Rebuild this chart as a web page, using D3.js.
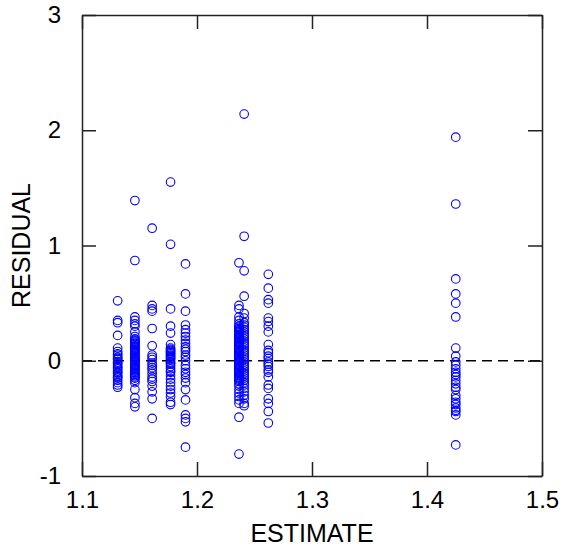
<!DOCTYPE html>
<html>
<head>
<meta charset="utf-8">
<script src="https://cdn.jsdelivr.net/npm/d3@7"></script>
<style>
  body { margin: 0; background: #fff; }
  text { font-family: "Liberation Sans", Arial, sans-serif; }
</style>
</head>
<body>
<svg width="563" height="550"></svg>
<script>
const xTicks = [1.1, 1.2, 1.3, 1.4, 1.5];
const yTicks = [-1, 0, 1, 2, 3];

// estimate levels, one column of residuals for each
const estimates = [1.131, 1.146, 1.161, 1.177, 1.190, 1.2365, 1.241, 1.262, 1.425];

const res1131 = [0.52, 0.35, 0.33, 0.22, 0.11, 0.08, 0.06, 0.05, 0.03, 0.02, 0.01, -0.01, -0.02,
  -0.03, -0.05, -0.06, -0.07, -0.09, -0.10, -0.11, -0.13, -0.14, -0.15, -0.17, -0.19, -0.21, -0.23];
const res1146 = [1.39, 0.87, 0.38, 0.35, 0.32, 0.30, 0.25, 0.21, 0.19, 0.18, 0.17, 0.16, 0.15,
  0.14, 0.13, 0.12, 0.11, 0.10, 0.09, 0.08, 0.07, 0.06, 0.05, 0.04, 0.03, 0.02, 0.01, 0.00,
  -0.01, -0.02, -0.03, -0.04, -0.05, -0.06, -0.07, -0.08, -0.09, -0.10, -0.11, -0.12, -0.13,
  -0.14, -0.15, -0.17, -0.19, -0.25, -0.32, -0.37, -0.40];
const res1161 = [1.15, 0.48, 0.45, 0.43, 0.28, 0.13, 0.05, 0.03, 0.01, -0.02, -0.04, -0.06,
  -0.08, -0.11, -0.14, -0.16, -0.18, -0.22, -0.27, -0.33, -0.50];
const res1177 = [1.55, 1.01, 0.45, 0.30, 0.24, 0.14, 0.11, 0.10, 0.09, 0.08, 0.07, 0.06, 0.05,
  0.04, 0.03, 0.02, 0.01, -0.01, -0.02, -0.03, -0.05, -0.07, -0.09, -0.10, -0.13, -0.16, -0.19,
  -0.22, -0.25, -0.28, -0.31, -0.36, -0.38];
const res1190 = [0.84, 0.58, 0.43, 0.31, 0.27, 0.24, 0.21, 0.18, 0.15, 0.12, 0.10, 0.08, 0.05,
  0.03, 0.00, -0.04, -0.07, -0.10, -0.12, -0.15, -0.19, -0.25, -0.34, -0.47, -0.50, -0.53, -0.75];
const res12365 = [0.85, 0.48, 0.45, 0.38, 0.35, 0.32, 0.30, 0.29, 0.28, 0.27, 0.26, 0.25, 0.24,
  0.23, 0.22, 0.21, 0.20, 0.19, 0.18, 0.17, 0.16, 0.15, 0.14, 0.13, 0.12, 0.11, 0.10, 0.09,
  0.08, 0.07, 0.06, 0.05, 0.04, 0.03, 0.02, 0.01, 0.00, -0.01, -0.02, -0.03, -0.04, -0.05,
  -0.06, -0.07, -0.08, -0.09, -0.10, -0.11, -0.12, -0.13, -0.14, -0.15, -0.16, -0.17, -0.18,
  -0.20, -0.22, -0.25, -0.28, -0.31, -0.34, -0.37, -0.49, -0.81];
const res1241 = [2.14, 1.08, 0.78, 0.56, 0.41, 0.37, 0.33, 0.31, 0.29, 0.27, 0.25, 0.23, 0.21,
  0.19, 0.17, 0.15, 0.13, 0.11, 0.09, 0.07, 0.05, 0.03, 0.01, -0.01, -0.03, -0.05, -0.07,
  -0.09, -0.11, -0.13, -0.15, -0.17, -0.19, -0.21, -0.24, -0.27, -0.30, -0.33, -0.37, -0.39];
const res1262 = [0.75, 0.63, 0.53, 0.50, 0.37, 0.34, 0.30, 0.25, 0.14, 0.09, 0.07, 0.04, 0.02,
  -0.01, -0.03, -0.05, -0.08, -0.10, -0.14, -0.21, -0.24, -0.33, -0.37, -0.44, -0.54];
const res1425 = [1.94, 1.36, 0.71, 0.58, 0.50, 0.38, 0.11, 0.04, -0.01, -0.04, -0.07, -0.10,
  -0.12, -0.14, -0.17, -0.20, -0.23, -0.25, -0.30, -0.33, -0.36, -0.38, -0.41, -0.43, -0.44,
  -0.47, -0.73];

const residuals = [res1131, res1146, res1161, res1177, res1190, res12365, res1241, res1262, res1425];

const points = estimates.flatMap((e, i) => residuals[i].map(r => [e, r]));

const margin = { top: 15, right: 21, bottom: 74, left: 82 };
const width = 563 - margin.left - margin.right;
const height = 550 - margin.top - margin.bottom;

const svg = d3.select("svg");
const g = svg.append("g")
  .attr("transform", "translate(" + margin.left + "," + margin.top + ")");

const x = d3.scaleLinear().domain([1.1, 1.5]).range([0, width]);
const y = d3.scaleLinear().domain([-1, 3]).range([height, 0]);

// zero reference line
g.append("line")
  .attr("x1", 0).attr("x2", width)
  .attr("y1", y(0)).attr("y2", y(0))
  .attr("stroke", "#000")
  .attr("stroke-width", 1.5)
  .attr("stroke-dasharray", "10,6");

g.append("g")
  .selectAll("circle")
  .data(points)
  .enter()
  .append("circle")
  .attr("cx", d => x(d[0]))
  .attr("cy", d => y(d[1]))
  .attr("r", 4.3)
  .attr("fill", "none")
  .attr("stroke", "#0000ff")
  .attr("stroke-width", 1.1);

// axes, ticks pointing inward on all four sides
const tick = 14;
const fmt = d3.format(".1f");
function styleAxis(sel) {
  sel.select(".domain").attr("stroke", "#222").attr("stroke-width", 1.5);
  sel.selectAll(".tick line").attr("stroke", "#222").attr("stroke-width", 1.5);
  sel.selectAll(".tick text").attr("fill", "#000").style("font-size", "24px")
    .style("font-family", "'Liberation Sans', Arial, sans-serif");
}

g.append("g")
  .attr("transform", "translate(0," + height + ")")
  .call(d3.axisBottom(x).tickValues(xTicks).tickFormat(fmt)
    .tickSizeInner(-tick).tickSizeOuter(0).tickPadding(tick + 1))
  .call(styleAxis);

g.append("g")
  .call(d3.axisTop(x).tickValues(xTicks).tickSizeInner(-tick).tickSizeOuter(0).tickFormat(""))
  .call(styleAxis);

g.append("g")
  .call(d3.axisLeft(y).tickValues(yTicks).tickFormat(d => String(d))
    .tickSizeInner(-tick).tickSizeOuter(0).tickPadding(tick + 7))
  .call(styleAxis);

g.append("g")
  .attr("transform", "translate(" + width + ",0)")
  .call(d3.axisRight(y).tickValues(yTicks).tickSizeInner(-tick).tickSizeOuter(0).tickFormat(""))
  .call(styleAxis);

svg.append("text")
  .attr("x", margin.left + width / 2)
  .attr("y", 542)
  .attr("text-anchor", "middle")
  .style("font-size", "25px")
  .text("ESTIMATE");

svg.append("text")
  .attr("transform", "translate(30," + (margin.top + height / 2) + ") rotate(-90)")
  .attr("text-anchor", "middle")
  .style("font-size", "25px")
  .text("RESIDUAL");
</script>
</body>
</html>
